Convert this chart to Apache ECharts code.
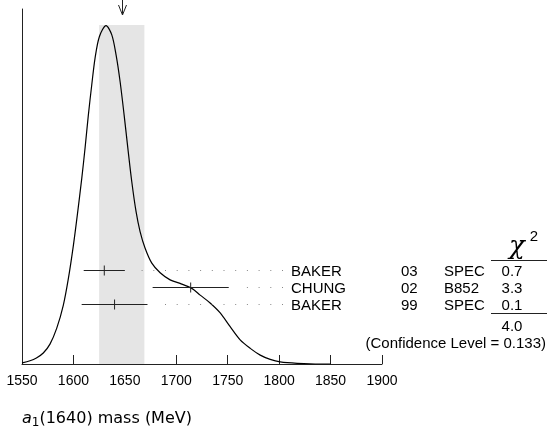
<!DOCTYPE html>
<html>
<head>
<meta charset="utf-8">
<script src="https://cdn.jsdelivr.net/npm/echarts@6/dist/echarts.min.js"></script>
<style>
html,body{margin:0;padding:0;background:#fff;}
#chart{width:547px;height:431px;}
</style>
</head>
<body>
<div id="chart"></div>
<script>
// ---- data ----
const xTicks = [1550, 1600, 1650, 1700, 1750, 1800, 1850, 1900];
const curveMass = [1550, 1557.8, 1564, 1570.7, 1577.2, 1583.8, 1590.2, 1595.1, 1600, 1603.8, 1608.1, 1611.3, 1614.5, 1617.8, 1621, 1625.2, 1631.7, 1637.3, 1641.5, 1645.4, 1649.3, 1652.9, 1656.7, 1660.9, 1664.8, 1669.7, 1676.2, 1684.3, 1694, 1703.7, 1715.1, 1723.2, 1732.9, 1742.7, 1752.4, 1762.1, 1771.9, 1781.6, 1791.3, 1801, 1817.6, 1840, 1850];
const curveDensity = [0.003, 0.009, 0.017, 0.031, 0.056, 0.101, 0.166, 0.241, 0.335, 0.420, 0.523, 0.608, 0.701, 0.786, 0.861, 0.922, 0.953, 0.927, 0.870, 0.795, 0.701, 0.608, 0.514, 0.429, 0.373, 0.326, 0.284, 0.257, 0.237, 0.227, 0.213, 0.194, 0.172, 0.144, 0.105, 0.068, 0.044, 0.025, 0.013, 0.006, 0.002, 0.0, 0.0];
const measNames = ['BAKER', 'CHUNG', 'BAKER'];
const measYears = ['03', '02', '99'];
const measTech = ['SPEC', 'B852', 'SPEC'];
const measValue = [1630, 1714, 1640];
const measError = [20, 37, 32];
const measChi2 = ['0.7', '3.3', '0.1'];
const measRowY = [0.266, 0.216, 0.168];
const avgValue = 1647;
const avgError = 22;
const bandTop = 0.955;
const chi2Total = '4.0';
const confLevel = '0.133';
const xTitleMain = 'a';
const xTitleSub = '1';
const xTitleRest = '(1640) mass (MeV)';

const chart = echarts.init(document.getElementById('chart'), null, {renderer: 'canvas'});
const FONT = '15px "Liberation Sans", Arial, sans-serif';

const rowData = measValue.map((v, i) => [v, measRowY[i], measError[i], i]);

const option = {
  animation: false,
  backgroundColor: '#fff',
  grid: {left: 22, right: 165, top: 9, bottom: 67},
  xAxis: {
    type: 'value', min: xTicks[0], max: xTicks[xTicks.length - 1], interval: 50,
    axisLine: {show: true, lineStyle: {color: '#222', width: 1}},
    axisTick: {show: true, inside: true, length: 9, lineStyle: {color: '#222', width: 1}},
    axisLabel: {show: true, margin: 10, color: '#000', fontSize: 14, fontFamily: '"Liberation Sans", Arial, sans-serif',
      formatter: function (v) { return String(v); }},
    splitLine: {show: false}
  },
  yAxis: {
    type: 'value', min: 0, max: 1,
    axisLine: {show: true, lineStyle: {color: '#222', width: 1}},
    axisTick: {show: false}, axisLabel: {show: false}, splitLine: {show: false}
  },
  series: [
    {
      type: 'line',
      data: curveMass.map((m, i) => [m, curveDensity[i]]),
      smooth: 0.3,
      symbol: 'none',
      lineStyle: {color: '#000', width: 1.2},
      z: 3,
      markArea: {
        silent: true,
        itemStyle: {color: '#e5e5e5'},
        data: [[{xAxis: avgValue - avgError, yAxis: 0}, {xAxis: avgValue + avgError, yAxis: bandTop}]]
      }
    },
    {
      type: 'custom',
      z: 4,
      clip: false,
      data: rowData,
      renderItem: function (params, api) {
        const v = api.value(0), y = api.value(1), e = api.value(2), i = api.value(3);
        const c = api.coord([v, y]);
        const lo = api.coord([v - e, y]);
        const hi = api.coord([v + e, y]);
        const yy = Math.round(c[1]) + 0.5;
        const children = [
          {type: 'line', shape: {x1: lo[0], y1: yy, x2: hi[0], y2: yy}, style: {stroke: '#222', lineWidth: 1}},
          {type: 'line', shape: {x1: c[0], y1: yy - 5, x2: c[0], y2: yy + 5}, style: {stroke: '#222', lineWidth: 1}},
          {type: 'line', shape: {x1: 283, y1: yy, x2: hi[0] + 12, y2: yy}, style: {stroke: '#888', lineWidth: 1, lineDash: [1, 10.7]}},
          {type: 'text', style: {text: measNames[i], x: 291, y: yy + 1, textAlign: 'left', textVerticalAlign: 'middle', font: FONT, fill: '#000'}},
          {type: 'text', style: {text: measYears[i], x: 401, y: yy + 1, textAlign: 'left', textVerticalAlign: 'middle', font: FONT, fill: '#000'}},
          {type: 'text', style: {text: measTech[i], x: 444, y: yy + 1, textAlign: 'left', textVerticalAlign: 'middle', font: FONT, fill: '#000'}},
          {type: 'text', style: {text: measChi2[i], x: 512, y: yy + 1, textAlign: 'center', textVerticalAlign: 'middle', font: FONT, fill: '#000'}}
        ];
        return {type: 'group', children: children};
      }
    },
    {
      type: 'custom',
      z: 5,
      clip: false,
      data: [[avgValue, 1]],
      renderItem: function (params, api) {
        const p = api.coord([api.value(0), api.value(1)]);
        const x = Math.round(p[0]) + 0.5;
        const top = p[1] - 9, tip = p[1] + 6;
        return {type: 'group', children: [
          {type: 'line', shape: {x1: x, y1: top, x2: x, y2: tip}, style: {stroke: '#222', lineWidth: 1}},
          {type: 'polyline', shape: {points: [[x - 4, tip - 10], [x, tip], [x + 4, tip - 10]]}, style: {stroke: '#222', lineWidth: 1, fill: null}}
        ]};
      }
    }
  ],
  graphic: [
    {type: 'text', x: 517, y: 247, style: {text: 'χ', x: 0, y: 0, textAlign: 'center', textVerticalAlign: 'middle', font: 'italic 26px "DejaVu Serif", "Liberation Serif", serif', fill: '#000'}},
    {type: 'text', x: 534, y: 237, style: {text: '2', x: 0, y: 0, textAlign: 'center', textVerticalAlign: 'middle', font: '15px "Liberation Sans", Arial, sans-serif', fill: '#000'}},
    {type: 'line', shape: {x1: 491, y1: 260.5, x2: 547, y2: 260.5}, style: {stroke: '#222', lineWidth: 1}},
    {type: 'line', shape: {x1: 491, y1: 313.5, x2: 547, y2: 313.5}, style: {stroke: '#222', lineWidth: 1}},
    {type: 'text', x: 512, y: 327, style: {text: chi2Total, x: 0, y: 0, textAlign: 'center', textVerticalAlign: 'middle', font: FONT, fill: '#000'}},
    {type: 'text', x: 546, y: 344, style: {text: '(Confidence Level = ' + confLevel + ')', x: 0, y: 0, textAlign: 'right', textVerticalAlign: 'middle', font: FONT, fill: '#000'}},
    {type: 'text', x: 22, y: 419, style: {
      text: '{i|' + xTitleMain + '}{s|' + xTitleSub + '}{r|' + xTitleRest + '}',
      x: 0, y: 0, textVerticalAlign: 'middle',
      rich: {
        i: {font: 'italic 16px "DejaVu Sans", sans-serif', fill: '#000'},
        s: {font: '12px "DejaVu Sans", sans-serif', fill: '#000', padding: [8, 0, 0, 0]},
        r: {font: '16px "DejaVu Sans", sans-serif', fill: '#000'}
      }
    }}
  ]
};
chart.setOption(option);
</script>
</body>
</html>
